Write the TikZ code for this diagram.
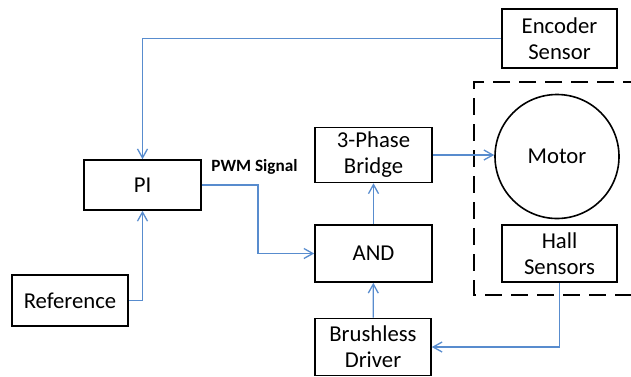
\documentclass[tikz,border=0pt]{standalone}
\usepackage{fontspec}
\setmainfont{Carlito}
\usetikzlibrary{arrows.meta}
\definecolor{linkblue}{RGB}{88,140,206}

\begin{document}
\begin{tikzpicture}[x=0.5pt, y=-0.5pt,
    block/.style={draw, line width=0.8pt, inner sep=0pt, align=center,
        font=\fontsize{11.35}{13}\selectfont},
    flow/.style={draw=linkblue, line width=0.65pt,
        -{Straight Barb[length=4.5pt, width=5pt]}},
    frame/.style={draw, line width=1pt, dash pattern=on 8.5pt off 4.5pt}]
                \clip (0,0) rectangle (631,376);
                % Nodes
                \node[block, minimum width=57.5pt, minimum height=29.5pt] (enc) at (559.5,38.5) {Encoder\\Sensor};
                \node[block, minimum width=58.5pt, minimum height=25pt] (pi) at (142.5,185) {PI};
                \node[block, minimum width=58pt, minimum height=25.5pt] (ref) at (70,300.5) {Reference};
                \node[block, minimum width=58.5pt, minimum height=27.5pt] (bridge) at (373.5,155) {3-Phase\\Bridge};
                \node[block, minimum width=58.5pt, minimum height=28.5pt] (and) at (373.5,253.5) {AND};
                \node[block, minimum width=58pt, minimum height=28.5pt] (brush) at (373,347) {Brushless\\Driver};
                \node[block, circle, minimum size=62pt] (motor) at (557,156.5) {Motor};
                \node[block, minimum width=57.5pt, minimum height=28.5pt] (hall) at (559.5,253.5) {Hall\\Sensors};
                \node[font=\fontsize{8.6}{10}\selectfont\bfseries, anchor=west, inner sep=0pt] (pwmtxt) at (211,167) {PWM Signal};
                \coordinate (pwm) at (258,185);
                % Dashed motor frame
                \draw[frame] (640,82) -- (474,82) -- (474,295) -- (640,295);
                % Edges
                \draw[flow] (enc) -| (pi);
                \draw[flow] (ref) -| (pi);
                \draw[flow] (pi.east) -- (pwm) |- (and);
                \draw[flow] (and) -- (bridge);
                \draw[flow] (brush) -- (and);
                \draw[flow] (bridge) -- (bridge -| motor.west);
                \draw[flow] (hall) |- (brush);
            \end{tikzpicture}
\end{document}
